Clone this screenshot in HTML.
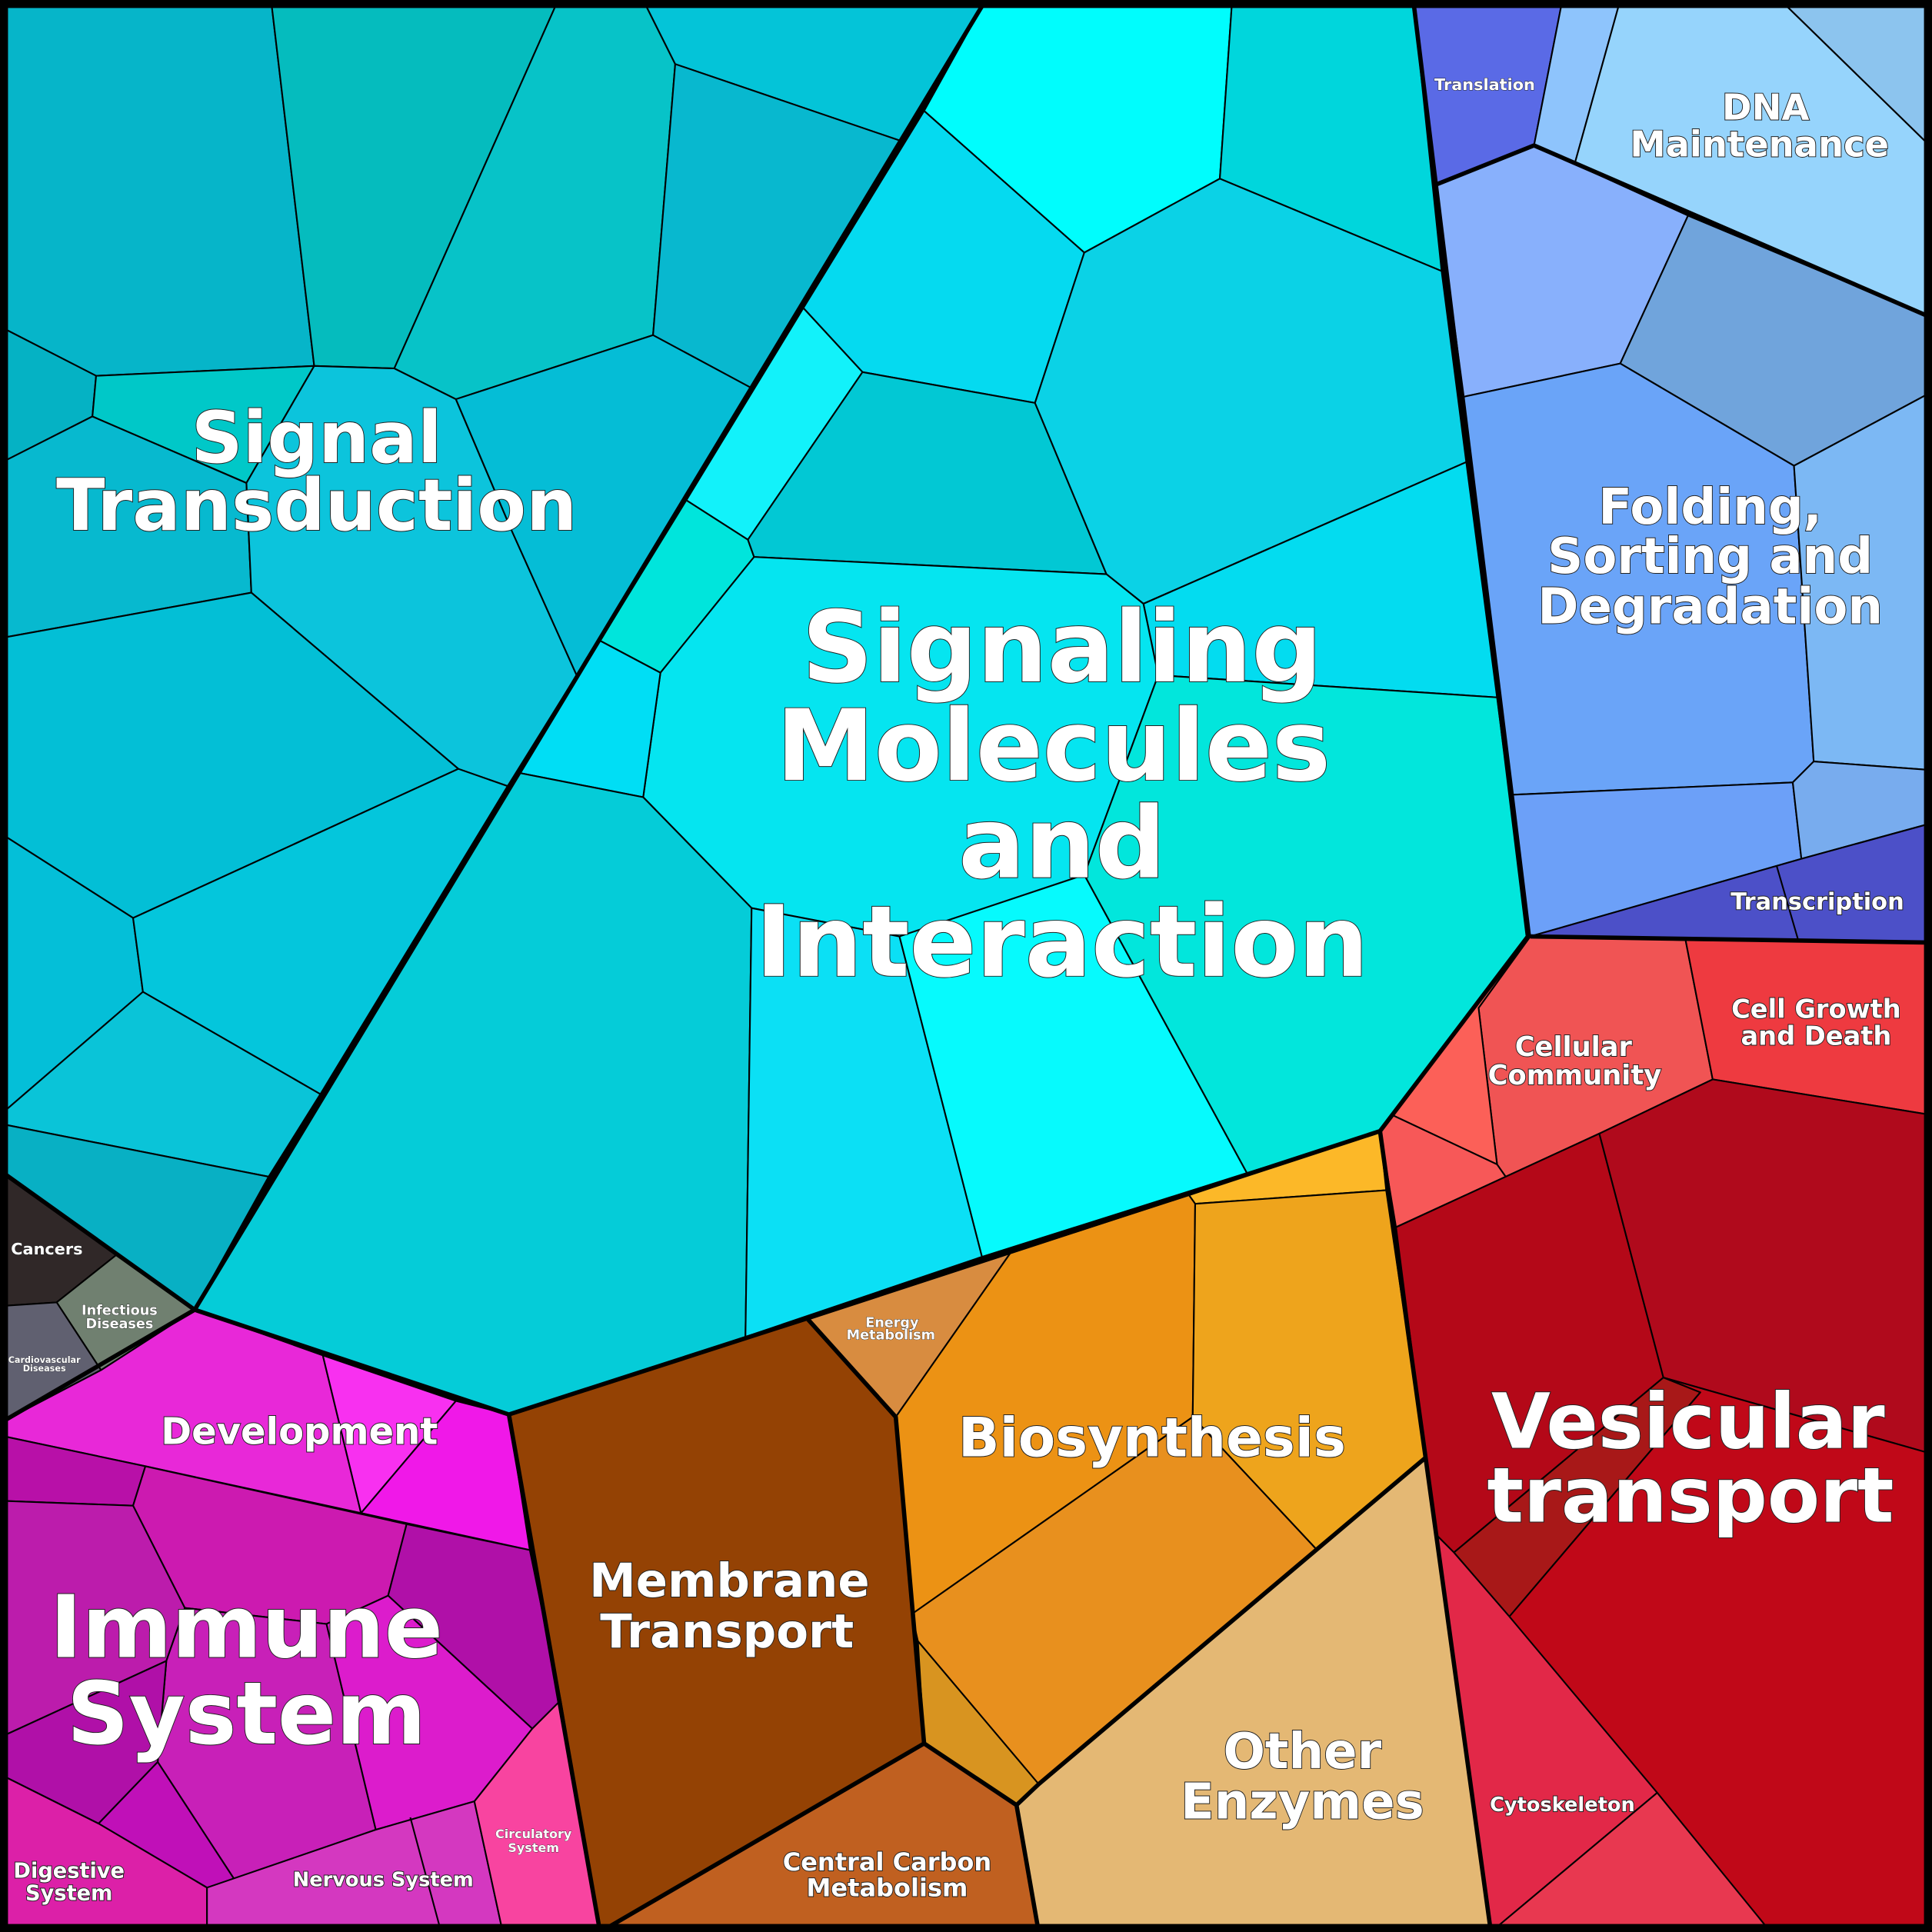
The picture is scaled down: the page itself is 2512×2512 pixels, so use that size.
<!DOCTYPE html>
<html><head><meta charset="utf-8"><style>
html,body{margin:0;padding:0;background:#000}
svg{display:block}
text{font-family:"DejaVu Sans","Liberation Sans",sans-serif;font-weight:bold;fill:#fff;text-anchor:middle;paint-order:stroke;stroke:#222;stroke-width:1.2px}
.c{stroke:#000;stroke-width:1.3;stroke-linejoin:round}
.t{fill:none;stroke:#000;stroke-width:3.5;stroke-linejoin:round}
</style></head><body>
<svg width="2512" height="2512" viewBox="0 0 1568 1568" xmlns="http://www.w3.org/2000/svg">
<rect width="1568" height="1568" fill="#000"/>
<g class="c">
<polygon fill="#06b5c9" points="0,0 220,0 255,297 78,305 0,265"/>
<polygon fill="#05bcbe" points="220,0 453,0 320,299 255,297"/>
<polygon fill="#07c3c8" points="453,0 522,0 548,52 530,272 370,324 320,299"/>
<polygon fill="#04c4d8" points="522,0 800,0 733,115 548,52"/>
<polygon fill="#08b8cf" points="548,52 733,115 610,315 530,272"/>
<polygon fill="#05b2c4" points="0,265 78,305 75,338 0,376"/>
<polygon fill="#00c8c8" points="78,305 255,297 200,392 75,338"/>
<polygon fill="#07b9cf" points="0,376 75,338 200,392 204,481 0,518"/>
<polygon fill="#0cc4dc" points="255,297 320,299 370,324 415,430 468,548 412,638 372,624 204,481 200,392"/>
<polygon fill="#05bdd6" points="370,324 530,272 610,315 468,548 415,430"/>
<polygon fill="#03bfd6" points="0,518 204,481 372,624 108,745 0,676"/>
<polygon fill="#04bfd8" points="0,676 108,745 116,805 0,905"/>
<polygon fill="#04c6dc" points="108,745 372,624 412,638 260,888 116,805"/>
<polygon fill="#0ac4d8" points="0,905 116,805 260,888 218,955 0,912"/>
<polygon fill="#08b0c4" points="0,912 218,955 158,1063 0,950"/>
<polygon fill="#00fdfd" points="800,0 1000,0 990,145 880,205 750,90"/>
<polygon fill="#00d6dc" points="1000,0 1147,0 1170,220 990,145"/>
<polygon fill="#05daf0" points="750,90 880,205 840,327 700,302 652,250"/>
<polygon fill="#12f2fa" points="652,250 700,302 607,438 557,406"/>
<polygon fill="#00e5dc" points="557,406 607,438 612,452 536,546 487,520"/>
<polygon fill="#02c8d4" points="700,302 840,327 898,466 612,452 607,438"/>
<polygon fill="#0bd2e6" points="990,145 1170,220 1190,375 928,490 898,466 840,327 880,205"/>
<polygon fill="#03dcf0" points="928,490 1190,375 1215,566 940,548"/>
<polygon fill="#05e5f0" points="612,452 898,466 928,490 940,548 880,710 730,760 610,737 522,647 536,546"/>
<polygon fill="#00def5" points="487,520 536,546 522,647 420,627"/>
<polygon fill="#05ccd8" points="420,627 522,647 610,737 605,1085 413,1148 158,1063"/>
<polygon fill="#0be0f5" points="610,737 730,760 797,1020 605,1085"/>
<polygon fill="#06fafd" points="730,760 880,710 1012,952 797,1020"/>
<polygon fill="#02e6dc" points="940,548 1215,566 1240,760 1120,918 1012,952 880,710"/>
<polygon fill="#5a6ae6" points="1147,0 1268,0 1245,118 1165,150"/>
<polygon fill="#8ec4fc" points="1268,0 1315,0 1278,133 1245,118"/>
<polygon fill="#96d4fc" points="1315,0 1445,0 1568,120 1568,258 1278,133"/>
<polygon fill="#8cc4ee" points="1445,0 1568,0 1568,120"/>
<polygon fill="#88b0fc" points="1165,150 1245,118 1370,175 1315,295 1188,322"/>
<polygon fill="#70a4dc" points="1370,175 1568,258 1568,318 1456,378 1315,295"/>
<polygon fill="#6aa4f8" points="1188,322 1315,295 1456,378 1472,618 1455,635 1228,645"/>
<polygon fill="#7cb8f4" points="1456,378 1568,318 1568,625 1472,618"/>
<polygon fill="#6ca0f8" points="1228,645 1455,635 1462,697 1242,760"/>
<polygon fill="#78acee" points="1455,635 1472,618 1568,625 1568,668 1462,697"/>
<polygon fill="#4c50c8" points="1242,760 1462,697 1568,668 1568,765"/>
<line x1="1442" y1="703" x2="1460" y2="765"/>
<polygon fill="#f05454" points="1242,760 1368,763 1390,876 1298,920 1222,955 1215,945 1200,818"/>
<polygon fill="#ee3a40" points="1368,763 1568,765 1568,905 1390,876"/>
<polygon fill="#fc6058" points="1242,760 1200,818 1215,945 1130,905 1120,918"/>
<polygon fill="#f75858" points="1120,918 1130,905 1215,945 1222,955 1133,996"/>
<polygon fill="#b40818" points="1133,996 1222,955 1298,920 1350,1118 1180,1260 1165,1245"/>
<polygon fill="#b00a1c" points="1298,920 1390,876 1568,905 1568,1180 1350,1118"/>
<polygon fill="#a81818" points="1180,1260 1350,1118 1380,1130 1225,1312"/>
<polygon fill="#c00818" points="1350,1118 1568,1180 1568,1568 1437,1568 1225,1312 1380,1130"/>
<polygon fill="#e22848" points="1165,1245 1180,1260 1225,1312 1345,1455 1210,1568"/>
<polygon fill="#e83850" points="1345,1455 1437,1568 1210,1568"/>
<polygon fill="#fcb828" points="965,970 1120,918 1125,966 970,977"/>
<polygon fill="#d88c40" points="655,1070 820,1017 727,1150"/>
<polygon fill="#ec9214" points="820,1017 965,970 970,977 968,1150 740,1310 727,1150"/>
<polygon fill="#eea41c" points="970,977 1125,966 1157,1183 1068,1257 968,1150"/>
<polygon fill="#e8901e" points="740,1310 968,1150 1068,1257 843,1448 745,1332"/>
<polygon fill="#d89420" points="745,1332 843,1448 825,1465 750,1415"/>
<polygon fill="#e4b874" points="843,1448 1068,1257 1157,1183 1210,1568 843,1568 825,1465"/>
<polygon fill="#944204" points="413,1148 655,1070 727,1150 750,1415 487,1568"/>
<polygon fill="#c06020" points="487,1568 750,1415 825,1465 843,1568"/>
<polygon fill="#302828" points="0,950 95,1018 46,1057 0,1060"/>
<polygon fill="#708070" points="95,1018 158,1063 82,1112 46,1057"/>
<polygon fill="#606070" points="0,1060 46,1057 82,1112 0,1155"/>
<polygon fill="#e828d8" points="0,1155 82,1112 158,1063 262,1100 293,1228 118,1190 0,1165"/>
<polygon fill="#f830f0" points="262,1100 370,1137 293,1228"/>
<polygon fill="#f018e8" points="370,1137 413,1148 430,1258 293,1228"/>
<polygon fill="#b810a8" points="0,1165 118,1190 108,1222 0,1218"/>
<polygon fill="#cc1ab0" points="108,1222 118,1190 330,1237 315,1295 265,1318 150,1305"/>
<polygon fill="#b010a8" points="330,1237 430,1258 455,1380 432,1403 315,1295"/>
<polygon fill="#bc1cac" points="0,1218 108,1222 150,1305 135,1348 0,1410"/>
<polygon fill="#c820b8" points="135,1348 150,1305 265,1318 305,1485 190,1525 128,1430"/>
<polygon fill="#dc1ccc" points="265,1318 315,1295 432,1403 385,1462 305,1485"/>
<polygon fill="#b010a8" points="0,1410 135,1348 128,1430 80,1480 0,1440"/>
<polygon fill="#c010b8" points="80,1480 128,1430 190,1525 168,1532"/>
<polygon fill="#dc20a8" points="0,1440 80,1480 168,1532 168,1568 0,1568"/>
<polygon fill="#d438c0" points="168,1532 305,1485 385,1462 408,1568 168,1568"/>
<line x1="333" y1="1475" x2="358" y2="1568"/>
<polygon fill="#f844a0" points="385,1462 432,1403 455,1380 487,1568 408,1568"/>
</g>
<g class="t">
<polyline points="800,0 158,1063 413,1148 655,1070 1120,918 1240,760 1147,0"/>
<polyline points="1165,150 1245,118 1568,258"/>
<polyline points="1242,760 1568,765"/>
<polyline points="1120,918 1157,1183 1210,1568"/>
<polyline points="1157,1183 843,1448 825,1465 750,1415 727,1150 655,1070"/>
<polyline points="750,1415 487,1568"/>
<polyline points="825,1465 843,1568"/>
<polyline points="413,1148 487,1568"/>
<polyline points="0,1155 158,1063"/>
<polyline points="0,950 158,1063"/>
</g>
<rect x="3" y="3" width="1562" height="1562" fill="none" stroke="#000" stroke-width="7"/>
<text font-size="58" x="257" y="375">Signal</text>
<text font-size="58" x="257" y="430">Transduction</text>
<text font-size="80" x="862" y="553">Signaling</text>
<text font-size="80" x="855" y="633">Molecules</text>
<text font-size="80" x="862" y="712">and</text>
<text font-size="80" x="862" y="792">Interaction</text>
<text font-size="29" x="1433" y="97">DNA</text>
<text font-size="29" x="1428" y="127">Maintenance</text>
<text font-size="13" x="1205" y="73" style="stroke-width:.6px">Translation</text>
<text font-size="40" x="1388" y="425">Folding,</text>
<text font-size="40" x="1388" y="465">Sorting and</text>
<text font-size="40" x="1388" y="506">Degradation</text>
<text font-size="19" x="1475" y="738">Transcription</text>
<text font-size="22" x="1277" y="857">Cellular</text>
<text font-size="22" x="1278" y="880">Community</text>
<text font-size="21" x="1474" y="826">Cell Growth</text>
<text font-size="21" x="1474" y="848">and Death</text>
<text font-size="62" x="1370" y="1175">Vesicular</text>
<text font-size="62" x="1372" y="1235">transport</text>
<text font-size="16" x="1268" y="1470">Cytoskeleton</text>
<text font-size="40" x="1057" y="1435">Other</text>
<text font-size="40" x="1057" y="1476">Enzymes</text>
<text font-size="44" x="935" y="1182">Biosynthesis</text>
<text font-size="11" x="724" y="1077" style="stroke-width:.5px">Energy</text>
<text font-size="11" x="723" y="1087" style="stroke-width:.5px">Metabolism</text>
<text font-size="38" x="592" y="1296">Membrane</text>
<text font-size="38" x="590" y="1337">Transport</text>
<text font-size="20" x="720" y="1518">Central Carbon</text>
<text font-size="20" x="720" y="1539">Metabolism</text>
<text font-size="30" x="243" y="1172">Development</text>
<text font-size="70" x="200" y="1345">Immune</text>
<text font-size="70" x="200" y="1415">System</text>
<text font-size="17" x="56" y="1524">Digestive</text>
<text font-size="17" x="56" y="1542">System</text>
<text font-size="16" x="311" y="1531">Nervous System</text>
<text font-size="10" x="433" y="1492" style="stroke-width:.4px">Circulatory</text>
<text font-size="10" x="433" y="1503" style="stroke-width:.4px">System</text>
<text font-size="13" x="38" y="1018" style="stroke-width:.6px">Cancers</text>
<text font-size="11" x="97" y="1067" style="stroke-width:.5px">Infectious</text>
<text font-size="11" x="97" y="1078" style="stroke-width:.5px">Diseases</text>
<text font-size="7" x="36" y="1106" style="stroke-width:.3px">Cardiovascular</text>
<text font-size="7" x="36" y="1113" style="stroke-width:.3px">Diseases</text>
</svg>
</body></html>
